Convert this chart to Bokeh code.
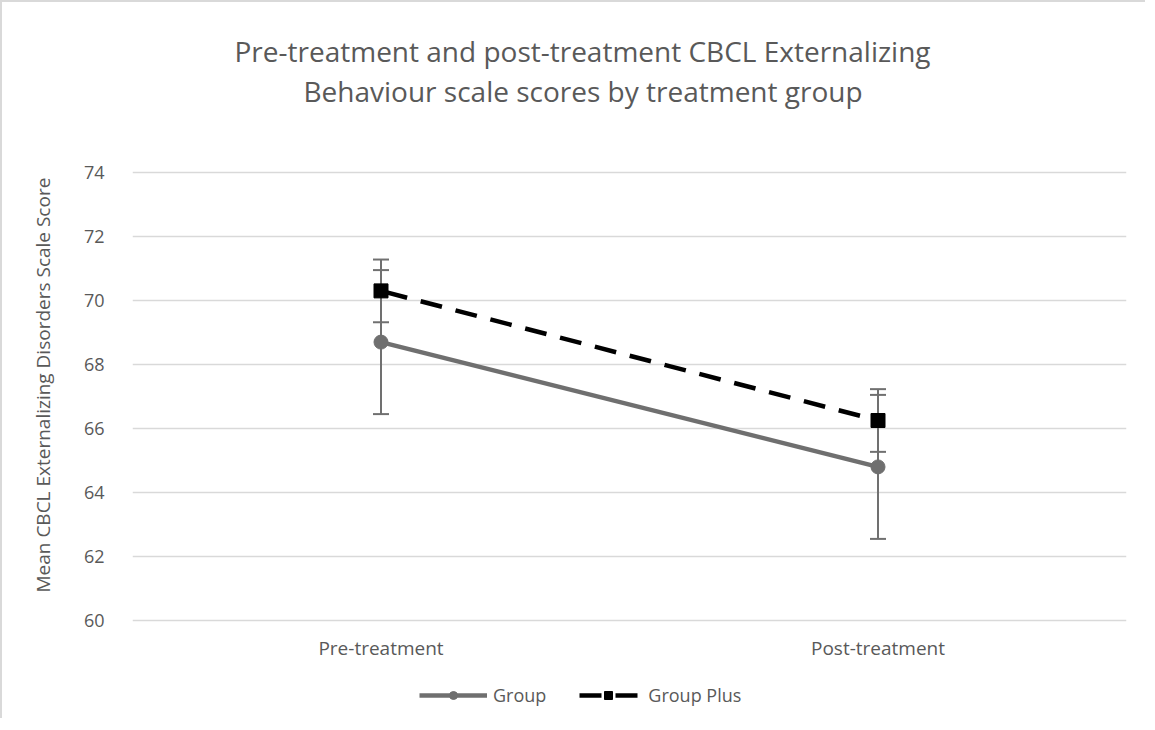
from bokeh.plotting import figure
from bokeh.models import FactorRange, Range1d, Legend, LegendItem, Title
from bokeh.core.properties import value
from bokeh.embed import file_html
from bokeh.resources import INLINE

categories = ["Pre-treatment", "Post-treatment"]
group_mean = [68.7, 64.8]
group_err = [2.25, 2.25]
plus_mean = [70.3, 66.25]
plus_err = [0.98, 0.98]
y_ticks = [60, 62, 64, 66, 68, 70, 72, 74]
title_lines = ["Pre-treatment and post-treatment CBCL Externalizing",
               "Behaviour scale scores by treatment group"]
y_label = "Mean CBCL Externalizing Disorders Scale Score"
series_names = ["Group", "Group Plus"]

FONT = "Open Sans"
TXT = "#595959"
BORDER = "#d9d9d9"

# frame extends above the top tick and below the bottom tick (room for title and legend)
p = figure(width=1145, height=718, output_backend="svg", toolbar_location=None,
           x_range=FactorRange(*categories, range_padding=0),
           y_range=Range1d(56.875, 75.96875),
           min_border_left=126, min_border_right=21, min_border_top=107, min_border_bottom=0,
           title=None)
p.styles = {"border-top": "2px solid " + BORDER, "border-left": "2px solid " + BORDER}

p.outline_line_alpha = 0
p.border_fill_color = "white"
p.background_fill_color = "white"

t2 = Title(text=title_lines[1], align="left", offset=171, text_font=FONT, text_font_size="28px",
           text_font_style="normal", text_color=TXT, standoff=0)
t1 = Title(text=title_lines[0], align="left", offset=102, text_font=FONT, text_font_size="28px",
           text_font_style="normal", text_color=TXT, standoff=0)
p.add_layout(t2, "above")
p.add_layout(t1, "above")

p.xaxis.visible = False
p.xgrid.grid_line_color = None
p.ygrid.grid_line_color = BORDER
p.ygrid.grid_line_width = 1.5
p.yaxis.ticker = y_ticks
p.yaxis.axis_line_color = None
p.yaxis.major_tick_line_color = None
p.yaxis.minor_tick_line_color = None
p.yaxis.major_label_text_font = FONT
p.yaxis.major_label_text_font_size = "18px"
p.yaxis.major_label_text_color = TXT
p.yaxis.major_label_standoff = 22

yt = Title(text=y_label, align="left", offset=128, text_font=FONT, text_font_size="19px",
           text_font_style="normal", text_color=TXT, standoff=50)
p.add_layout(yt, "left")

# category labels under the bottom gridline
p.text(x=categories, y=[y_ticks[0]] * len(categories), text=categories,
       text_font=value(FONT), text_font_size="19px", text_color=TXT,
       text_align="center", text_baseline="middle", y_offset=27)

GREY = "#6f6f6f"
ERR = "#707070"

def errbars(means, errs):
    lo = [m - e for m, e in zip(means, errs)]
    hi = [m + e for m, e in zip(means, errs)]
    p.segment(x0=categories, y0=lo, x1=categories, y1=hi, line_color=ERR, line_width=2)
    p.scatter(x=categories, y=lo, marker="dash", size=16, line_color=ERR, line_width=2)
    p.scatter(x=categories, y=hi, marker="dash", size=16, line_color=ERR, line_width=2)

errbars(group_mean, group_err)
errbars(plus_mean, plus_err)

l1 = p.line(categories, group_mean, line_color=GREY, line_width=4.5)
m1 = p.scatter(categories, group_mean, marker="circle", size=14, fill_color=GREY, line_color=GREY)
l2 = p.line(categories, plus_mean, line_color="black", line_width=4.5, line_dash="22 14",
            line_dash_offset=31)
m2 = p.scatter(categories, plus_mean, marker="square", size=14, fill_color="black", line_color="black")

legend = Legend(items=[LegendItem(label=series_names[0], renderers=[l1, m1]),
                       LegendItem(label=series_names[1], renderers=[l2, m2])],
                orientation="horizontal", location=(287, 13),
                label_text_font=FONT, label_text_font_size="18px", label_text_color=TXT,
                glyph_width=68, glyph_height=20, label_standoff=6, spacing=28,
                border_line_color=None, background_fill_alpha=0, margin=0, padding=0)
p.add_layout(legend, "center")

open("out.html", "w").write(file_html(p, INLINE))
